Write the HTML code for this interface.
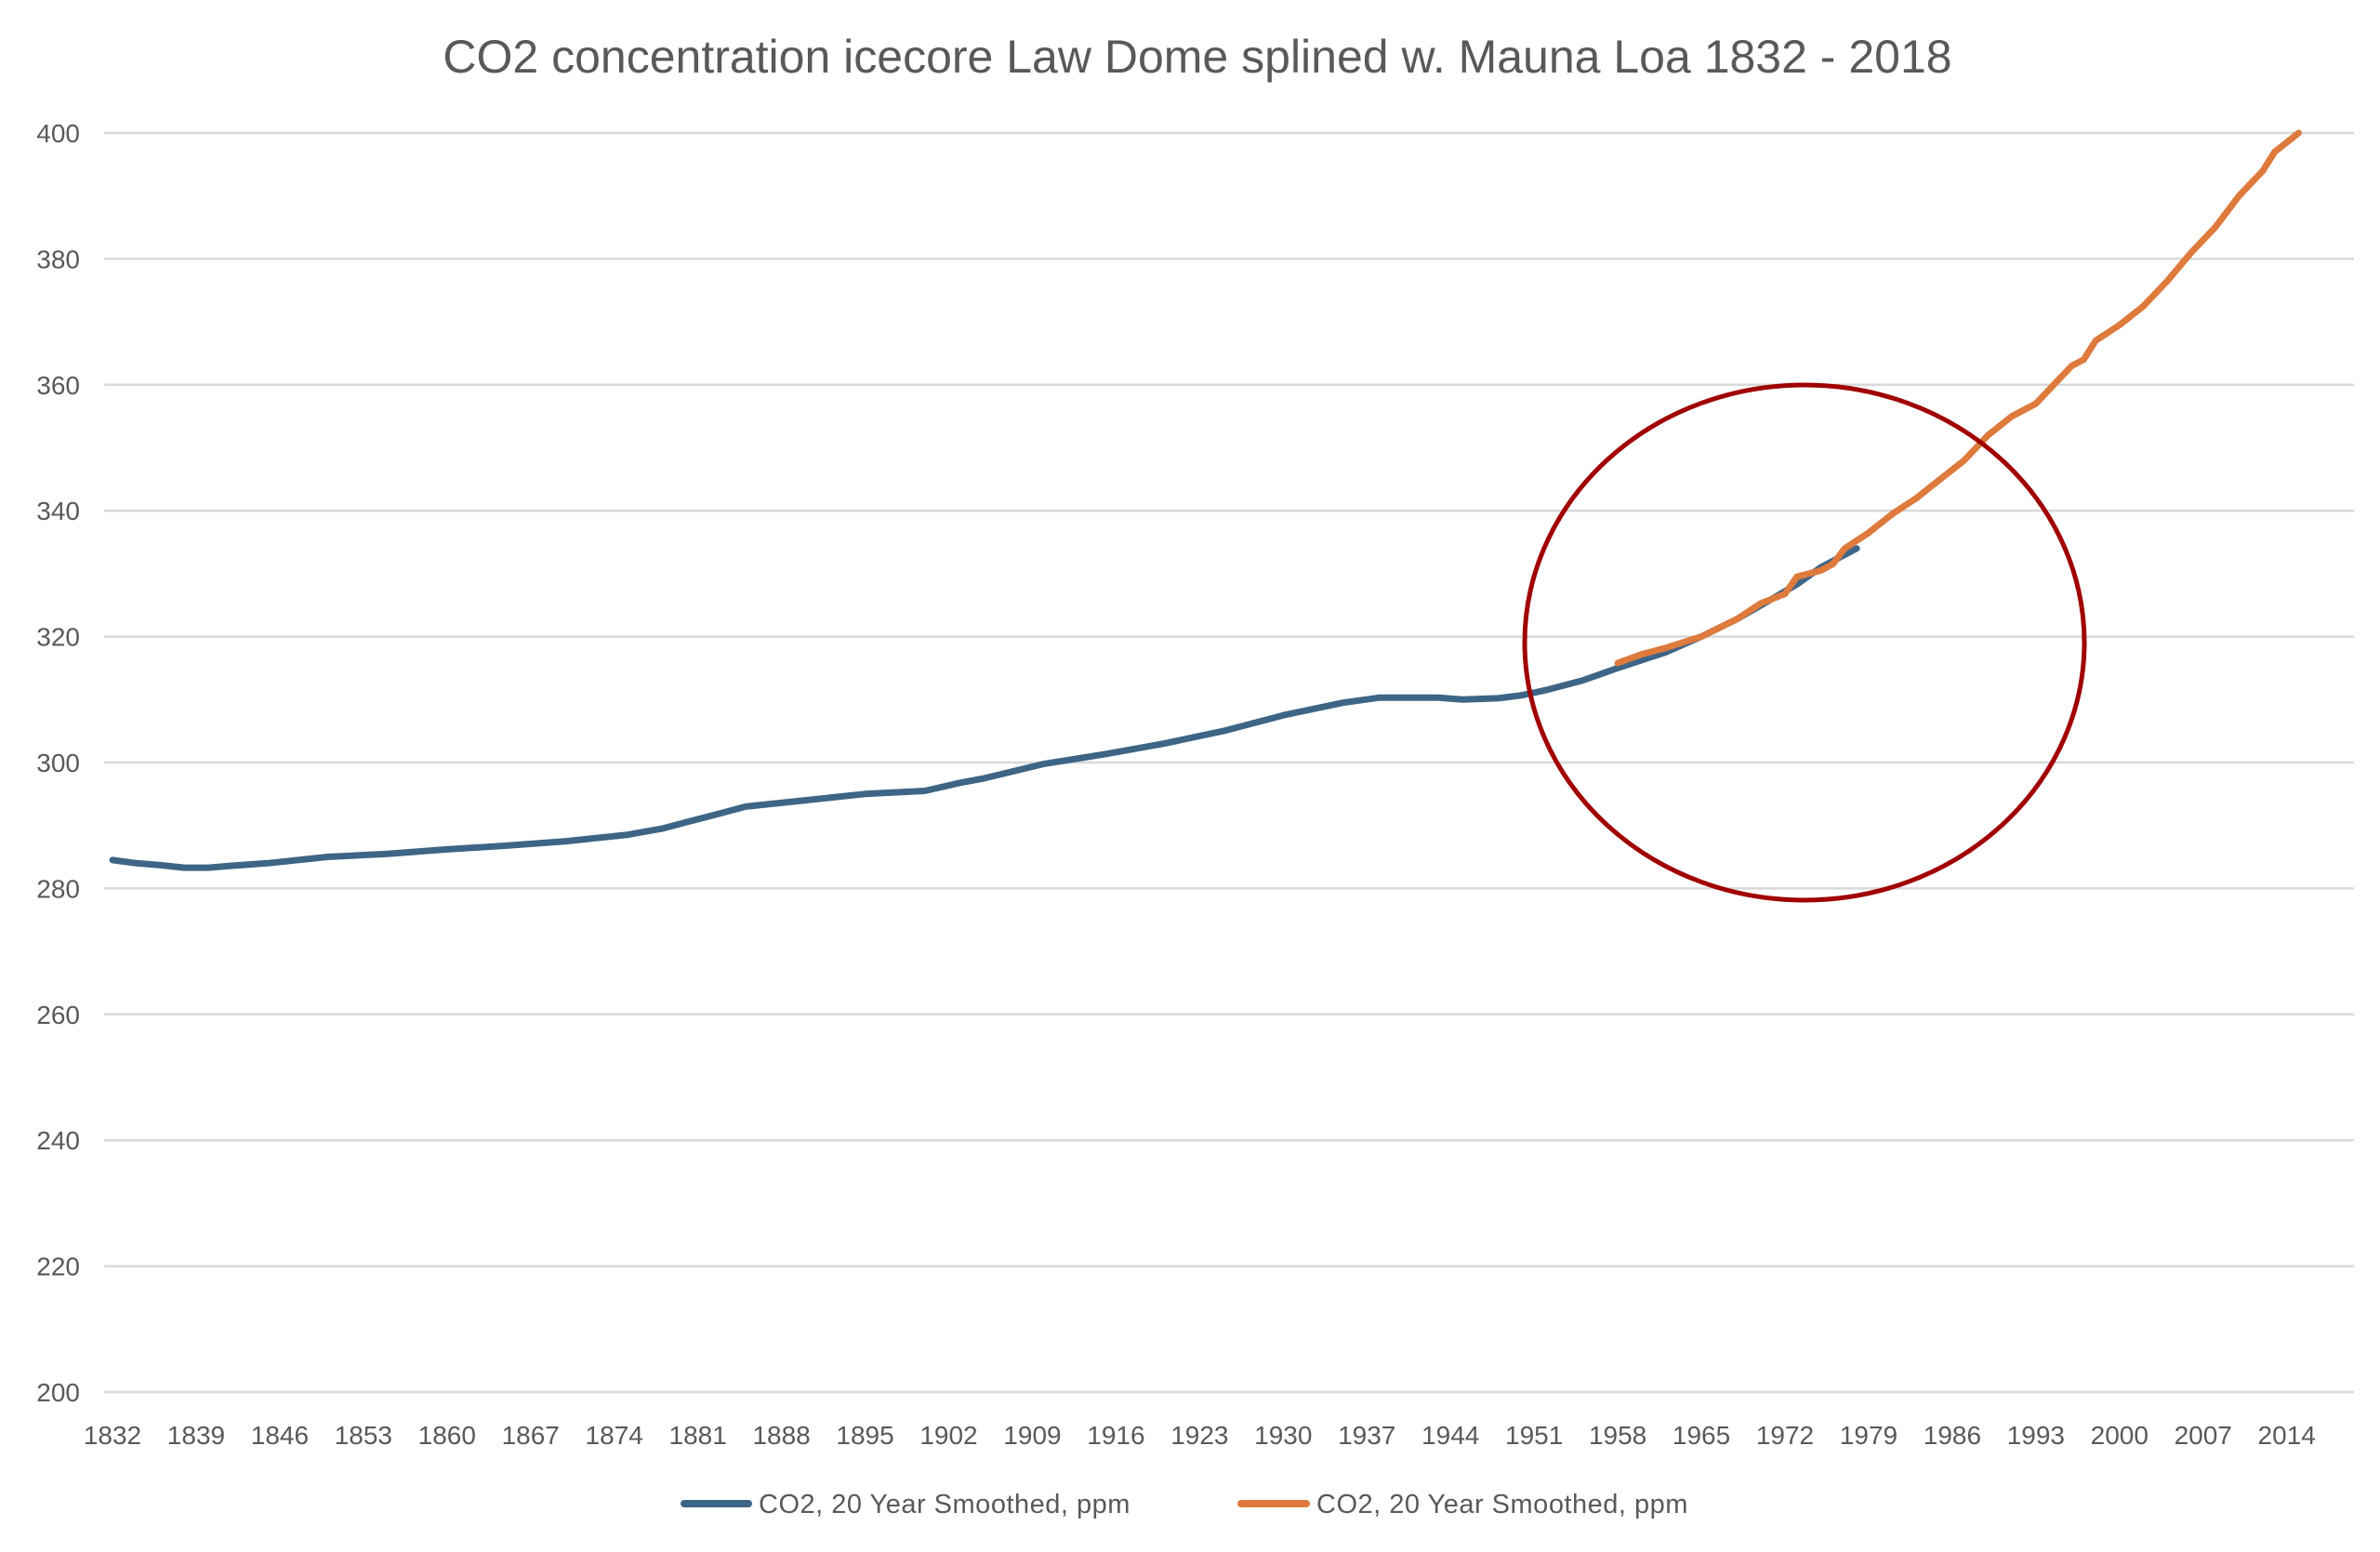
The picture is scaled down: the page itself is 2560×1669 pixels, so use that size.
<!DOCTYPE html>
<html><head><meta charset="utf-8"><style>
html,body{margin:0;padding:0;background:#fff;}
svg{display:block;font-family:"Liberation Sans",sans-serif;}
</style></head><body>
<svg id="c" width="2560" height="1669" viewBox="0 0 2560 1669" xmlns="http://www.w3.org/2000/svg">
<rect width="2560" height="1669" fill="#fff"/>
<text x="1288" y="78" font-size="50" fill="#595959" text-anchor="middle">CO2 concentration icecore Law Dome splined w. Mauna Loa 1832 - 2018</text>
<g id="grid" stroke="#d9d9d9" stroke-width="2.5"></g>
<g id="ylab" font-size="28" fill="#595959" text-anchor="end"></g>
<g id="xlab" font-size="28" fill="#595959" text-anchor="middle"></g>
<polyline id="blue" fill="none" stroke="#3d6585" stroke-width="7" stroke-linejoin="round" stroke-linecap="round"/>
<polyline id="orange" fill="none" stroke="#dd7a3c" stroke-width="7" stroke-linejoin="round" stroke-linecap="round"/>
<ellipse cx="1941" cy="691" rx="301" ry="277" fill="none" stroke="#a00000" stroke-width="5"/>
<line x1="736" y1="1617" x2="805" y2="1617" stroke="#3d6585" stroke-width="8" stroke-linecap="round"/>
<text x="816" y="1627" font-size="29" fill="#595959" letter-spacing="0.5">CO2, 20 Year Smoothed, ppm</text>
<line x1="1335" y1="1617" x2="1405" y2="1617" stroke="#dd7a3c" stroke-width="8" stroke-linecap="round"/>
<text x="1416" y="1627" font-size="29" fill="#595959" letter-spacing="0.5">CO2, 20 Year Smoothed, ppm</text>
</svg>
<script>
var NS="http://www.w3.org/2000/svg";
function Y(v){return 143+(400-v)*6.77;}
function X(y){return 121+(y-1832)*12.85;}
var g=document.getElementById('grid'),yl=document.getElementById('ylab'),xl=document.getElementById('xlab');
for(var v=200;v<=400;v+=20){var l=document.createElementNS(NS,'line');l.setAttribute('x1',112);l.setAttribute('x2',2532);l.setAttribute('y1',Y(v));l.setAttribute('y2',Y(v));g.appendChild(l);
var t=document.createElementNS(NS,'text');t.setAttribute('x',86);t.setAttribute('y',Y(v)+10);t.textContent=v;yl.appendChild(t);}
for(var yr=1832;yr<=2014;yr+=7){var t=document.createElementNS(NS,'text');t.setAttribute('x',X(yr));t.setAttribute('y',1553);t.textContent=yr;xl.appendChild(t);}
var B=[[1832,284.5],[1834,284],[1836,283.7],[1838,283.3],[1840,283.3],[1842,283.6],[1845,284],[1850,285],[1855,285.5],[1860,286.2],[1865,286.8],[1870,287.5],[1875,288.5],[1878,289.5],[1880,290.5],[1883,292],[1885,293],[1890,294],[1895,295],[1900,295.5],[1903,296.8],[1905,297.5],[1910,299.8],[1915,301.3],[1920,303],[1925,305],[1930,307.5],[1935,309.5],[1938,310.3],[1943,310.3],[1945,310],[1948,310.2],[1950,310.7],[1952,311.5],[1955,313],[1958,315],[1962,317.5],[1965,320],[1968,322.8],[1970,325],[1973,328.3],[1975,331],[1978,334]];
var O=[[1958,315.8],[1960,317.2],[1962,318.2],[1965,320],[1968,322.8],[1970,325.3],[1972,326.8],[1973,329.5],[1975,330.5],[1976,331.5],[1977,334],[1979,336.5],[1981,339.5],[1983,342],[1985,345],[1987,348],[1989,352],[1991,355],[1993,357],[1995,361],[1996,363],[1997,364],[1998,367],[2000,369.5],[2002,372.5],[2004,376.5],[2006,381],[2008,385],[2010,390],[2012,394],[2013,397],[2015,400]];
function pts(a){return a.map(function(p){return X(p[0]).toFixed(1)+','+Y(p[1]).toFixed(1);}).join(' ');}
document.getElementById('blue').setAttribute('points',pts(B));
document.getElementById('orange').setAttribute('points',pts(O));
</script>
</body></html>
